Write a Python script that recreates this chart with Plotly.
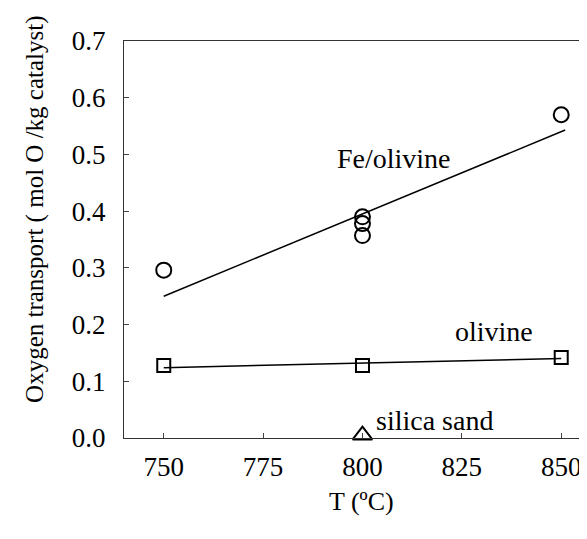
import plotly.graph_objects as go

# Data
fe_T = [750, 800, 800, 800, 850]
fe_O = [0.296, 0.390, 0.378, 0.357, 0.570]
fe_fit_T = [750, 851]
fe_fit_O = [0.250, 0.543]

ol_T = [750, 800, 850]
ol_O = [0.128, 0.128, 0.142]
ol_fit_T = [750, 850]
ol_fit_O = [0.124, 0.140]

si_T = [800]
si_O = [0.005]

x_ticks = [750, 775, 800, 825, 850]
y_ticks = [0.0, 0.1, 0.2, 0.3, 0.4, 0.5, 0.6, 0.7]

x_title = "T (ºC)"
y_title = "Oxygen transport ( mol O /kg catalyst)"

FONT = "Liberation Serif, Times New Roman, serif"

fig = go.Figure()
fig.add_trace(go.Scatter(x=fe_fit_T, y=fe_fit_O, mode="lines",
                         line=dict(color="black", width=1.5), showlegend=False))
fig.add_trace(go.Scatter(x=ol_fit_T, y=ol_fit_O, mode="lines",
                         line=dict(color="black", width=1.5), showlegend=False))
fig.add_trace(go.Scatter(x=fe_T, y=fe_O, mode="markers",
                         marker=dict(symbol="circle-open", size=15, color="black",
                                     line=dict(width=2, color="black")),
                         showlegend=False))
fig.add_trace(go.Scatter(x=ol_T, y=ol_O, mode="markers",
                         marker=dict(symbol="square-open", size=13, color="black",
                                     line=dict(width=2, color="black")),
                         showlegend=False))
fig.add_trace(go.Scatter(x=si_T, y=si_O, mode="markers",
                         marker=dict(symbol="triangle-up-open", size=17, color="black",
                                     line=dict(width=2, color="black")),
                         showlegend=False, cliponaxis=False))

annos = [
    dict(x=803, y=0.030, text="silica sand", xanchor="left", yanchor="middle"),
    dict(x=833, y=0.188, text="olivine", xanchor="center", yanchor="middle"),
    dict(x=808, y=0.492, text="Fe/olivine", xanchor="center", yanchor="middle"),
]
for a in annos:
    fig.add_annotation(**a, showarrow=False, font=dict(family=FONT, size=28, color="black"))

# Axis titles placed as paper-referenced annotations
fig.add_annotation(x=-0.189, y=0.577, xref="paper", yref="paper", text=y_title,
                   textangle=-90, showarrow=False, xanchor="center", yanchor="middle",
                   font=dict(family=FONT, size=25, color="black"))
fig.add_annotation(x=0.505, y=-0.159, xref="paper", yref="paper", text=x_title,
                   showarrow=False, xanchor="center", yanchor="middle",
                   font=dict(family=FONT, size=26, color="black"))

fig.update_layout(
    width=587, height=539,
    margin=dict(l=116, r=0, t=33, b=109, autoexpand=False),
    paper_bgcolor="white", plot_bgcolor="white",
    font=dict(family=FONT, size=25, color="black"),
    xaxis=dict(range=[740, 858.5], tickvals=x_ticks, ticks="inside", ticklen=5,
               showline=True, linecolor="#333", linewidth=1, mirror=True,
               showgrid=False, zeroline=False, automargin=False,
               ticklabelstandoff=5,
               tickfont=dict(family=FONT, size=27)),
    yaxis=dict(range=[0, 0.7], tickvals=y_ticks, tickformat=".1f", ticks="inside", ticklen=5,
               showline=True, linecolor="#333", linewidth=1, mirror=False,
               showgrid=False, zeroline=False, automargin=False,
               ticklabelstandoff=12,
               tickfont=dict(family=FONT, size=27)),
)

fig.write_html("out.html")
